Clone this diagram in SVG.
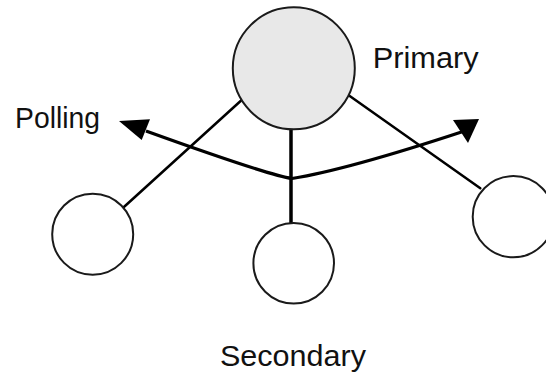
<svg xmlns="http://www.w3.org/2000/svg" width="546" height="372" viewBox="0 0 546 372">
  <style>
    .node { fill: #ffffff; stroke: #1a1a1a; stroke-width: 2; }
    .primary { fill: #e8e8e8; }
    .link { stroke: #000000; stroke-width: 2.5; fill: none; stroke-linecap: round; }
    .trunk { stroke-width: 3.5; stroke-linecap: butt; }
    .poll { stroke: #000000; stroke-width: 3.2; fill: none; }
    .head { fill: #000000; }
    .label { font-family: "Liberation Sans", Arial, sans-serif; font-size: 30px; fill: #111111; }
  </style>
  <rect width="546" height="372" fill="#ffffff"/>

  <!-- links from the primary station to each secondary -->
  <g id="connectors">
    <line class="link" x1="241.7" y1="100" x2="121.7" y2="209"/>
    <line class="link trunk" x1="291" y1="129" x2="291" y2="224"/>
    <line class="link" x1="348.3" y1="95" x2="480.3" y2="188.3"/>
    <!-- polling sweep, two-headed -->
    <path class="poll" d="M146,131 Q268,175 292,178.5 Q347.5,169.6 463,131.5"/>
    <polygon class="head" points="119,121 150,119.3 141.7,140"/>
    <polygon class="head" points="479,119 453,120 468,143"/>
  </g>

  <g id="primary">
    <circle class="node primary" cx="293.8" cy="68.3" r="61"/>
    <text class="label" x="372.7" y="68.3" textLength="106" lengthAdjust="spacingAndGlyphs">Primary</text>
  </g>

  <g id="secondary-left">
    <circle class="node" cx="92.7" cy="234.2" r="40.5"/>
  </g>
  <g id="secondary-middle">
    <circle class="node" cx="293.7" cy="263.3" r="40.3"/>
  </g>
  <g id="secondary-right">
    <circle class="node" cx="513.3" cy="216.7" r="40.6"/>
  </g>

  <g id="polling-label">
    <text class="label" x="15" y="128.3" textLength="85" lengthAdjust="spacingAndGlyphs">Polling</text>
  </g>
  <g id="secondary-label">
    <text class="label" x="220" y="366" textLength="146" lengthAdjust="spacingAndGlyphs">Secondary</text>
  </g>
</svg>
